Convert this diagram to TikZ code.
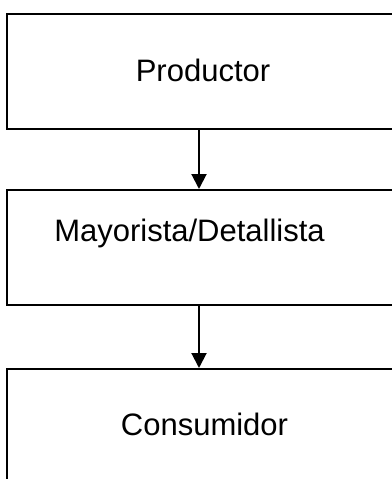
\documentclass[tikz,border=0pt]{standalone}
\usepackage{fontspec}
\setmainfont{Liberation Sans}
\usetikzlibrary{arrows.meta}
\tikzset{
  caja/.style={draw, line width=1.5pt, minimum width=295.5pt, minimum height=86.25pt, inner sep=0pt},
  texto/.style={anchor=base, inner sep=0pt, font=\fontsize{23.25pt}{28pt}\selectfont},
  flecha/.style={line width=1.5pt, -{Triangle[length=11.25pt, width=11.25pt]}}
}
\begin{document}
\begin{tikzpicture}[x=0.75pt, y=-0.75pt]
  % Frame
  \useasboundingbox (0,0) rectangle (392,479);
  \clip (0,0) rectangle (392,479);

  % Boxes
  \node[caja] (prod) at (204,71) {};
  \node[caja] (mayor) at (204,247.5) {};
  \node[caja] (cons) at (204,426.5) {};

  % Labels
  \node[texto] (tprod) at (203,81) {Productor};
  \node[texto] (tmayor) at (189.5,241.5) {Mayorista/Detallista};
  \node[texto] (tcons) at (204.5,435) {Consumidor};

  % Arrows
  \draw[flecha] ([xshift=-3.75pt]prod.south) -- ([xshift=-3.75pt]mayor.north);
  \draw[flecha] ([xshift=-3.75pt]mayor.south) -- ([xshift=-3.75pt]cons.north);
\end{tikzpicture}
\end{document}
